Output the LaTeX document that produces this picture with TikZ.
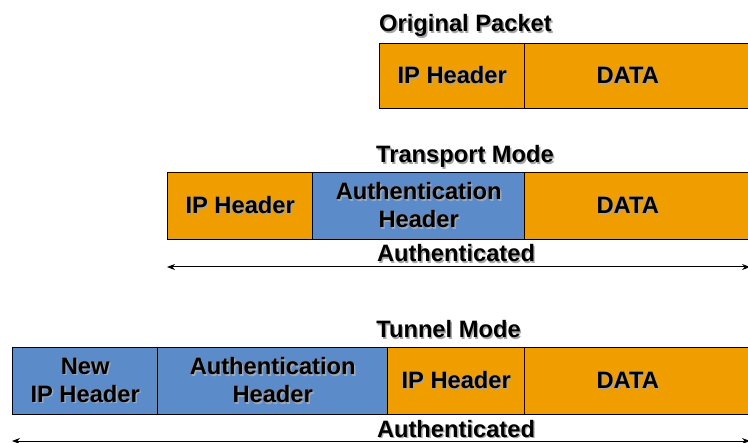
\documentclass[tikz,border=0pt]{standalone}
\usepackage{fontspec}
\setmainfont{Liberation Sans}
\usetikzlibrary{arrows.meta}
\definecolor{pktorange}{RGB}{240,157,0}
\definecolor{pktblue}{RGB}{92,139,201}
\newcommand\shd[1]{\makebox[0pt][l]{\hspace{1.4bp}\raisebox{-1.4bp}{\textcolor{black!35}{#1}}}#1}
\tikzset{
  txt/.style={font=\fontsize{23.7bp}{28bp}\selectfont\bfseries, inner sep=0pt, align=center},
  cell/.style={txt, draw=black, line width=1.4bp, anchor=north west, inner sep=0pt},
  orangecell/.style={cell, fill=pktorange},
  bluecell/.style={cell, fill=pktblue},
  title/.style={txt, anchor=base},
  span/.style={line width=1bp, {Stealth[length=8bp,width=6bp]}-{Stealth[length=8bp,width=6bp]}}
}
\begin{document}
\begin{tikzpicture}[x=1bp,y=-1bp]
\useasboundingbox (0,0) rectangle (748,443);
\clip (0,0) rectangle (748,443);
\fill[white] (0,0) rectangle (748,443);
% Original packet
\node[title] (ot) at (465.5,32) {\shd{Original Packet}};
\node[orangecell, minimum width=145bp, minimum height=65bp] (oip) at (379,43) {\shd{IP Header}};
\node[orangecell, minimum width=236bp, minimum height=65bp,
  label={[txt, xshift=-15bp]center:\shd{DATA}}] (odata) at (524,43) {};
% Transport mode
\node[title] (tt) at (465,163) {\shd{Transport Mode}};
\node[orangecell, minimum width=145bp, minimum height=67bp] (tip) at (167,172) {\shd{IP Header}};
\node[bluecell, minimum width=212bp, minimum height=67bp] (tah) at (312,172) {\shd{Authentication}\\\shd{Header}};
\node[orangecell, minimum width=236bp, minimum height=67bp,
  label={[txt, xshift=-15bp]center:\shd{DATA}}] (tdata) at (524,172) {};
\node[title] (tauth) at (456,262) {\shd{Authenticated}};
\coordinate (ta1) at (167,267);
\coordinate (ta2) at (750,267);
\draw[span] (ta1) -- (ta2);
% Tunnel mode
\node[title] (nt) at (448.5,338) {\shd{Tunnel Mode}};
\node[bluecell, minimum width=145bp, minimum height=67bp] (nnew) at (12,347) {\shd{New}\\\shd{IP Header}};
\node[bluecell, minimum width=230bp, minimum height=67bp] (nah) at (157,347) {\shd{Authentication}\\\shd{Header}};
\node[orangecell, minimum width=137bp, minimum height=67bp] (nip) at (387,347) {\shd{IP Header}};
\node[orangecell, minimum width=236bp, minimum height=67bp,
  label={[txt, xshift=-15bp]center:\shd{DATA}}] (ndata) at (524,347) {};
\node[title] (nauth) at (456,437.5) {\shd{Authenticated}};
\coordinate (na1) at (12,441);
\coordinate (na2) at (750,441);
\draw[span] (na1) -- (na2);
\end{tikzpicture}
\end{document}
